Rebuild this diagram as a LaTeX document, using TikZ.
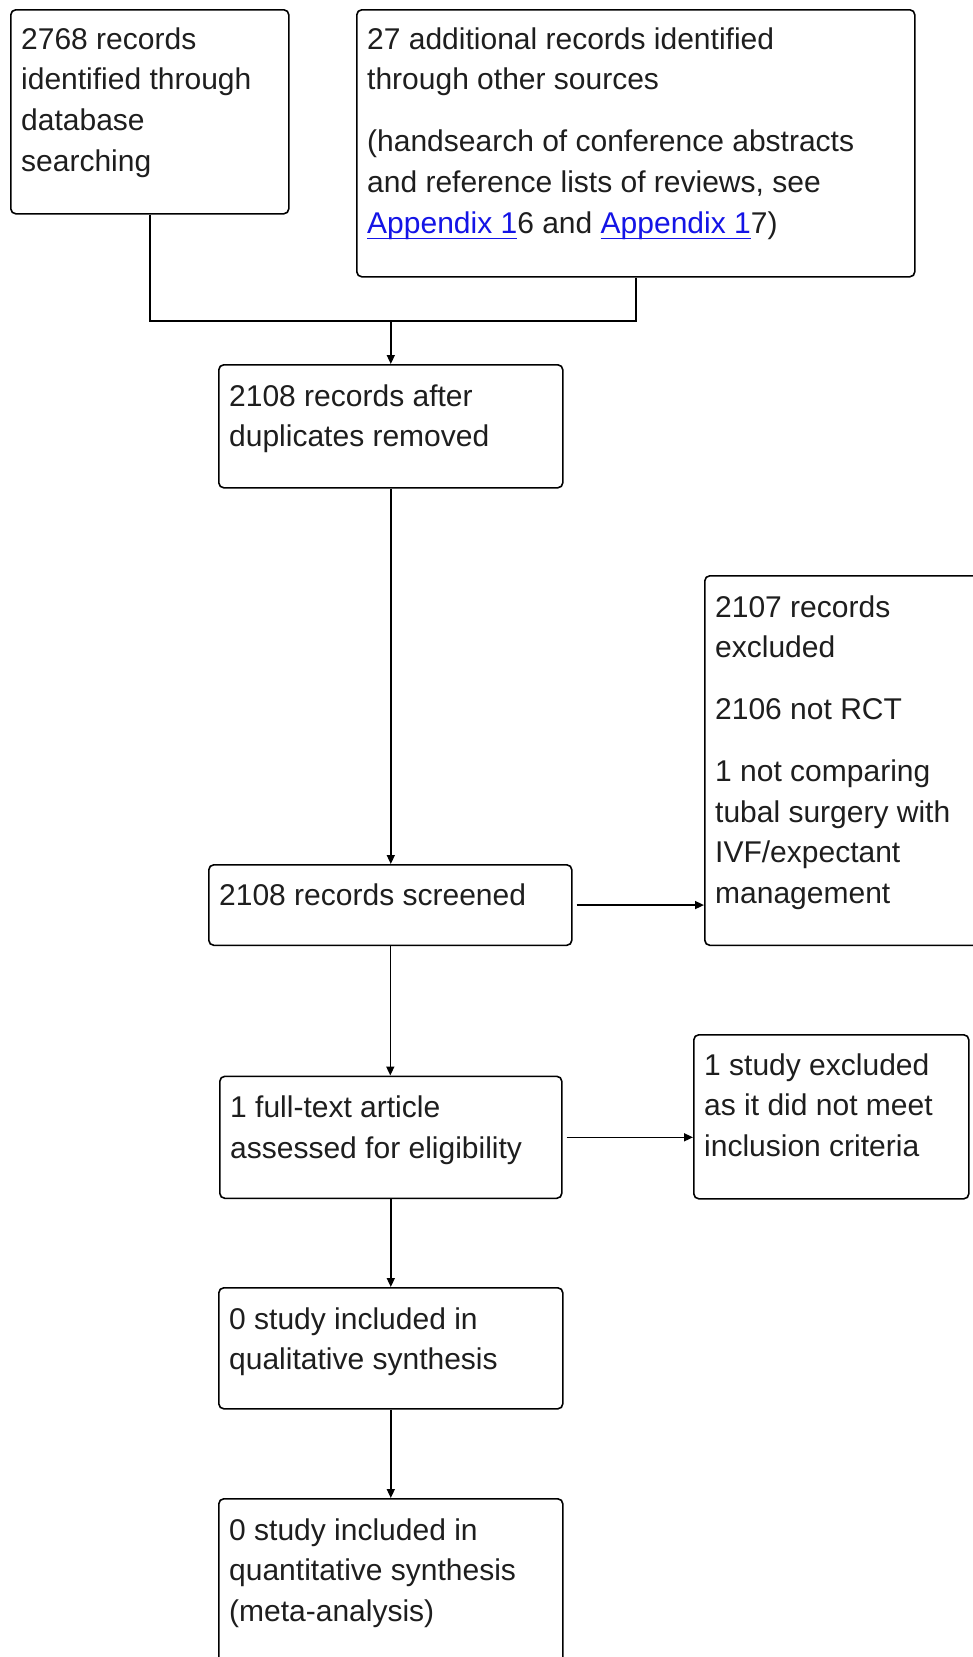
\documentclass[tikz,border=0pt]{standalone}
\usepackage{fontspec}
\setmainfont{Liberation Sans}
\usetikzlibrary{arrows.meta}
\definecolor{linkblue}{RGB}{20,20,230}
\definecolor{txtcol}{RGB}{30,30,30}
\newcommand\ulink[1]{\textcolor{linkblue}{\setbox0\hbox{#1}\rlap{\rule[-6pt]{\wd0}{1.4pt}}\box0}}
\begin{document}
\begin{tikzpicture}[x=1pt,y=-1pt,
  box/.style={draw, line width=1.6pt, rounded corners=5pt, anchor=north west, inner sep=0pt},
  txt/.style={anchor=north west, inner sep=0pt, align=left, text=txtcol, font=\fontsize{30}{40.7}\selectfont},
  arr/.style={line width=1.6pt, -{Triangle[length=9pt,width=8pt]}},
  ln/.style={line width=1.6pt}]
\useasboundingbox (0,0) rectangle (973,1657);
\clip (0,0) rectangle (973,1657);
\fill[white] (0,0) rectangle (973,1657);

% boxes
\node[box, minimum width=278pt, minimum height=204pt] (b1) at (10,9) {};
\node[box, minimum width=558pt, minimum height=267pt] (b2) at (356,9) {};
\node[box, minimum width=344pt, minimum height=123pt] (b3) at (218,364) {};
\node[box, minimum width=363pt, minimum height=80.5pt] (b4) at (208,864) {};
\node[box, minimum width=300pt, minimum height=369.5pt] (b5) at (704,575) {};
\node[box, minimum width=342pt, minimum height=122pt] (b6) at (219,1075.5) {};
\node[box, minimum width=275pt, minimum height=164pt] (b7) at (693,1034) {};
\node[box, minimum width=344pt, minimum height=121pt] (b8) at (218,1287) {};
\node[box, minimum width=344pt, minimum height=220pt] (b9) at (218,1498) {};

% texts
\node[txt] (t1) at ([shift={(11,18)}]b1.north west) {\rule{0pt}{22pt}2768 records\\identified through\\database\\searching};
\node[txt] (t2) at ([shift={(11,18)}]b2.north west) {\rule{0pt}{22pt}27 additional records identified\\through other sources\\[21pt](handsearch of conference abstracts\\and reference lists of reviews, see\\\ulink{Appendix 1}6 and \ulink{Appendix 1}7)};
\node[txt] (t3) at ([shift={(11,20)}]b3.north west) {\rule{0pt}{22pt}2108 records after\\duplicates removed};
\node[txt] (t4) at ([shift={(11,19)}]b4.north west) {\rule{0pt}{22pt}2108 records screened};
\node[txt] (t5) at ([shift={(11,20)}]b5.north west) {\rule{0pt}{22pt}2107 records\\excluded\\[21pt]2106 not RCT\\[21pt]1 not comparing\\tubal surgery with\\IVF/expectant\\management};
\node[txt] (t6) at ([shift={(11,20)}]b6.north west) {\rule{0pt}{22pt}1 full-text article\\assessed for eligibility};
\node[txt] (t7) at ([shift={(11,19)}]b7.north west) {\rule{0pt}{22pt}1 study excluded\\as it did not meet\\inclusion criteria};
\node[txt] (t8) at ([shift={(11,20)}]b8.north west) {\rule{0pt}{22pt}0 study included in\\qualitative synthesis};
\node[txt] (t9) at ([shift={(11,20)}]b9.north west) {\rule{0pt}{22pt}0 study included in\\quantitative synthesis\\(meta-analysis)};

% connectors
\coordinate (jn) at (b3.north |- 0,321);
\draw[ln] (b1.south) |- (jn) -| (b2.south);
\draw[arr] (jn) -- (b3.north);
\draw[arr] (b3.south) -- (b3.south |- b4.north);
\draw[arr, shorten <=4pt] (b4.east) -- (b4.east -| b5.west);
\draw[arr] (b4.south) -- (b4.south |- b6.north);
\draw[arr, shorten <=4pt] (b6.east) -- (b6.east -| b7.west);
\draw[arr] (b6.south) -- (b6.south |- b8.north);
\draw[arr] (b8.south) -- (b8.south |- b9.north);
\end{tikzpicture}
\end{document}
